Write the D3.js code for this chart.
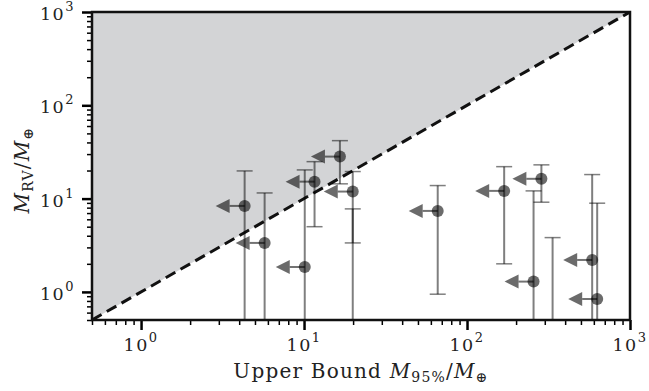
<!DOCTYPE html>
<html>
<head>
<meta charset="utf-8">
<script src="https://cdnjs.cloudflare.com/ajax/libs/d3/7.8.5/d3.min.js"></script>
<style>
  body { margin: 0; background: #fff; }
  text { font-family: "DejaVu Serif", serif; fill: #222; }
</style>
</head>
<body>
<div id="chart"></div>
<script>
// upper bound mass (x) vs RV mass (y), both in Earth masses
var upperBound = [4.32, 5.73, 10.1, 11.6, 16.6, 19.9, 66.1, 169, 286, 256, 335, 586, 629]
var massRV     = [8.35, 3.35, 1.85, 15.2, 28.2, 11.9, 7.38, 12.1, 16.3, 1.29, 0.30, 2.20, 0.84]
var errHigh    = [19.8, 11.5, 20.3, 24.9, 41.8, 19.5, 13.8, 22.0, 23.0, 12.1, 3.82, 18.1, 8.93]
var errLow     = [0.05, 0.05, 0.05, 5.0, 14.4, 0.05, 0.945, 2.0, 9.15, 0.05, 0.05, 0.05, 0.05]
// one extra error bar without a visible marker
var extraX    = [19.9]
var extraLow  = [3.35]
var extraHigh = [7.76]

var majorTicks = [1, 10, 100, 1000]
var tickExp = ["0", "1", "2", "3"]
var minorTicks = [0.5, 0.6, 0.7, 0.8, 0.9, 2, 3, 4, 5, 6, 7, 8, 9,
                  20, 30, 40, 50, 60, 70, 80, 90, 200, 300, 400, 500, 600, 700, 800, 900]

var margin = {top: 12, right: 19, bottom: 71, left: 92},
    width = 649 - margin.left - margin.right,
    height = 391 - margin.top - margin.bottom;

window.onload = function(){
  var svg = d3.select("#chart")
    .append("svg")
      .attr("width", width + margin.left + margin.right)
      .attr("height", height + margin.top + margin.bottom)
    .append("g")
      .attr("transform", "translate(" + margin.left + "," + margin.top + ")");

  var x = d3.scaleLog().domain([0.5, 1000]).range([0, width]);
  var y = d3.scaleLog().domain([0.5, 1000]).range([height, 0]);

  svg.append("clipPath").attr("id", "clip")
    .append("rect").attr("width", width).attr("height", height);

  var plot = svg.append("g").attr("clip-path", "url(#clip)");

  // shaded region above the 1:1 line
  var lo = x.domain()[0], hi = x.domain()[1]
  plot.append("path")
    .attr("d", "M" + x(lo) + "," + y(lo) + "L" + x(hi) + "," + y(hi) + "L" + x(lo) + "," + y(hi) + "Z")
    .attr("fill", "#d3d4d6")

  plot.append("line")
    .attr("x1", x(lo)).attr("y1", y(lo))
    .attr("x2", x(hi)).attr("y2", y(hi))
    .attr("stroke", "#111")
    .attr("stroke-width", 3)
    .attr("stroke-dasharray", "11,6")

  var idx = d3.range(upperBound.length)

  // error bars
  plot.selectAll(".ebar").data(idx).enter().append("line")
    .attr("x1", function(i){ return x(upperBound[i]) })
    .attr("x2", function(i){ return x(upperBound[i]) })
    .attr("y1", function(i){ return y(errLow[i]) })
    .attr("y2", function(i){ return y(errHigh[i]) })
    .attr("stroke", "#000").attr("stroke-opacity", 0.5).attr("stroke-width", 2)
  plot.selectAll(".ebarx").data(extraX).enter().append("line")
    .attr("x1", function(d){ return x(d) })
    .attr("x2", function(d){ return x(d) })
    .attr("y1", function(d, i){ return y(extraLow[i]) })
    .attr("y2", function(d, i){ return y(extraHigh[i]) })
    .attr("stroke", "#000").attr("stroke-opacity", 0.5).attr("stroke-width", 2)

  var caps = []
  idx.forEach(function(i){
    caps.push([upperBound[i], errLow[i]])
    caps.push([upperBound[i], errHigh[i]])
  })
  extraX.forEach(function(d, i){
    caps.push([d, extraLow[i]])
    caps.push([d, extraHigh[i]])
  })
  plot.selectAll(".cap").data(caps).enter().append("line")
    .attr("x1", function(d){ return x(d[0]) - 8 })
    .attr("x2", function(d){ return x(d[0]) + 8 })
    .attr("y1", function(d){ return y(d[1]) })
    .attr("y2", function(d){ return y(d[1]) })
    .attr("stroke", "#000").attr("stroke-opacity", 0.5).attr("stroke-width", 1.5)

  // upper limit arrows pointing left
  plot.selectAll(".shaft").data(idx).enter().append("line")
    .attr("x1", function(i){ return x(upperBound[i]) })
    .attr("x2", function(i){ return x(upperBound[i]) - 15 })
    .attr("y1", function(i){ return y(massRV[i]) })
    .attr("y2", function(i){ return y(massRV[i]) })
    .attr("stroke", "#000").attr("stroke-opacity", 0.55).attr("stroke-width", 2)
  plot.selectAll(".head").data(idx).enter().append("path")
    .attr("d", function(i){
      var cx = x(upperBound[i]), cy = y(massRV[i])
      return "M" + (cx - 29) + "," + cy + "L" + (cx - 15) + "," + (cy - 7) + "L" + (cx - 15) + "," + (cy + 7) + "Z"
    })
    .attr("fill", "#000").attr("fill-opacity", 0.58)

  plot.selectAll(".pt").data(idx).enter().append("circle")
    .attr("cx", function(i){ return x(upperBound[i]) })
    .attr("cy", function(i){ return y(massRV[i]) })
    .attr("r", 6)
    .attr("fill", "#000").attr("fill-opacity", 0.58)

  // axes
  var xMinor = svg.append("g").attr("transform", "translate(0," + height + ")")
    .call(d3.axisBottom(x).tickValues(minorTicks).tickSize(5).tickFormat(""))
  var xMajor = svg.append("g").attr("transform", "translate(0," + height + ")")
    .call(d3.axisBottom(x).tickValues(majorTicks).tickSize(10).tickFormat(""))
  var yMinor = svg.append("g")
    .call(d3.axisLeft(y).tickValues(minorTicks).tickSize(5).tickFormat(""))
  var yMajor = svg.append("g")
    .call(d3.axisLeft(y).tickValues(majorTicks).tickSize(10).tickFormat(""))
  xMinor.selectAll("line").attr("stroke-width", 1.5)
  yMinor.selectAll("line").attr("stroke-width", 1.5)
  xMajor.selectAll("line").attr("stroke-width", 2.5)
  yMajor.selectAll("line").attr("stroke-width", 2.5)
  svg.selectAll(".domain").remove()

  svg.append("rect")
    .attr("width", width).attr("height", height)
    .attr("fill", "none").attr("stroke", "#111").attr("stroke-width", 2.5)

  // tick labels 10^n
  var xl = svg.selectAll(".xlab").data(majorTicks).enter().append("text")
    .attr("x", function(d){ return x(d) })
    .attr("y", height + 31)
    .attr("text-anchor", "middle")
    .style("font-size", "17.5px")
    .style("letter-spacing", "1.5px")
  xl.append("tspan").text("10")
  xl.append("tspan").attr("dy", -9).style("font-size", "13px").text(function(d, i){ return tickExp[i] })

  var yl = svg.selectAll(".ylab").data(majorTicks).enter().append("text")
    .attr("x", -17)
    .attr("y", function(d){ return y(d) + 8 })
    .attr("text-anchor", "end")
    .style("font-size", "17.5px")
    .style("letter-spacing", "1.5px")
  yl.append("tspan").text("10")
  yl.append("tspan").attr("dy", -9).style("font-size", "13px").text(function(d, i){ return tickExp[i] })

  // axis titles
  var xt = svg.append("text")
    .attr("x", width / 2)
    .attr("y", height + 57.5)
    .attr("text-anchor", "middle")
    .style("font-size", "20px")
    .style("letter-spacing", "1.2px")
  xt.append("tspan").text("Upper Bound ")
  xt.append("tspan").style("font-style", "italic").text("M")
  xt.append("tspan").attr("dy", 4).style("font-size", "14px").text("95%")
  xt.append("tspan").attr("dy", -4).text("/")
  xt.append("tspan").style("font-style", "italic").text("M")
  xt.append("tspan").attr("dy", 4).style("font-size", "14px").text("⊕")

  var yt = svg.append("text")
    .attr("transform", "translate(" + (-63) + "," + (height / 2 + 4) + ") rotate(-90)")
    .attr("text-anchor", "middle")
    .style("font-size", "20px")
    .style("letter-spacing", "1.2px")
  yt.append("tspan").style("font-style", "italic").text("M")
  yt.append("tspan").attr("dy", 4).style("font-size", "14px").text("RV")
  yt.append("tspan").attr("dy", -4).text("/")
  yt.append("tspan").style("font-style", "italic").text("M")
  yt.append("tspan").attr("dy", 4).style("font-size", "14px").text("⊕")
}
</script>
</body>
</html>
